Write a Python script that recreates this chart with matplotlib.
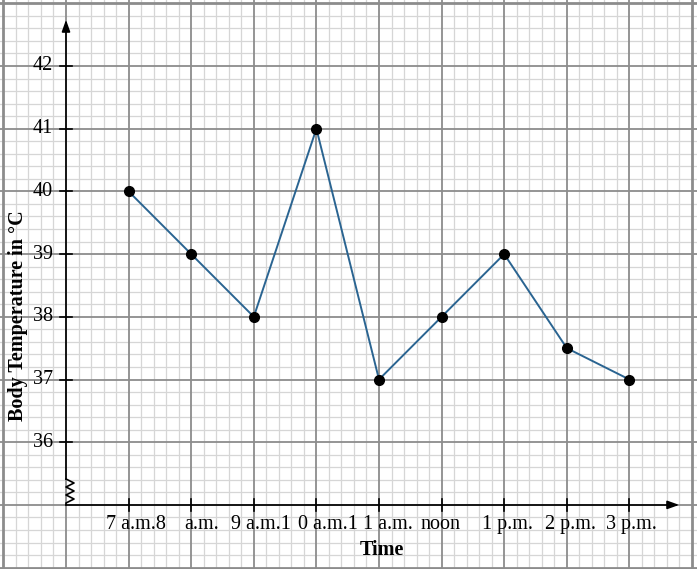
import numpy as np
import matplotlib
matplotlib.use("Agg")
import matplotlib.pyplot as plt

# ---- data ----
times = [1, 2, 3, 4, 5, 6, 7, 8, 9]
temps = [40, 39, 38, 41, 37, 38, 39, 37.5, 37]
tick_labels = ["7 a.m.8", "a.m.", "9 a.m.1", "0 a.m.1", "1 a.m.", "noon", "1 p.m.", "2 p.m.", "3 p.m."]
label_centers = [1.11, 2.165, 3.12, 4.18, 5.15, 5.99, 7.045, 8.067, 9.04]
y_ticks = [36, 37, 38, 39, 40, 41, 42]

plt.rcParams['font.family'] = ['Liberation Serif', 'DejaVu Serif']

W, H = 697, 569
fig = plt.figure(figsize=(W / 100, H / 100), dpi=100)
ax = fig.add_axes([0, 0, 1, 1])

sx = 62.6   # px per x unit
sy = 62.7   # px per y unit
x0px = 66
y42px = 66
xmin = -x0px / sx
xmax = (W - x0px) / sx
ymax = 42 + y42px / sy
ymin = 42 - (H - y42px) / sy
ax.set_xlim(xmin, xmax)
ax.set_ylim(ymin, ymax)

FS = 14.5

# graph paper
for v in np.arange(-1, 10.01, 0.2):
    if abs(v - round(v)) > 1e-6:
        ax.axvline(v, color='#d6d6d6', lw=0.9, zorder=0)
for v in np.arange(34, 43.01, 0.2):
    if abs(v - round(v)) > 1e-6:
        ax.axhline(v, color='#d6d6d6', lw=0.9, zorder=0)
for v in range(-1, 11):
    ax.axvline(v, color='#8c8c8c', lw=1.3 if v not in (-1, 10) else 2.0, zorder=0.5)
for v in range(34, 44):
    ax.axhline(v, color='#8c8c8c', lw=1.3 if v not in (34, 43) else 2.0, zorder=0.5)

for s in ax.spines.values():
    s.set_visible(False)

# axes lines
ytop = 42 + (66 - 17) / sy
xright = (682 - x0px) / sx
zig_top = 42 - (479 - 66) / sy
ax.plot([0, 0], [zig_top, ytop - 0.1], color='black', lw=1.2, zorder=3)
ax.plot([0, xright - 0.1], [35, 35], color='black', lw=1.2, zorder=3)
# arrowheads
ax.annotate('', xy=(0, ytop), xytext=(0, ytop - 0.2),
            arrowprops=dict(arrowstyle='-|>,head_length=0.7,head_width=0.25', color='black', lw=1.2),
            zorder=4)
ax.annotate('', xy=(xright, 35), xytext=(xright - 0.2, 35),
            arrowprops=dict(arrowstyle='-|>,head_length=0.7,head_width=0.25', color='black', lw=1.2),
            zorder=4)
# zigzag break
dx = 8 / sx
step = 4 / sy
zx = [0]
zy = [zig_top]
yy = zig_top
for i in range(6):
    yy -= step
    zx.append(dx if i % 2 == 0 else 0)
    zy.append(yy)
zx.append(0)
zy.append(35)
ax.plot(zx, zy, color='black', lw=1.2, zorder=3)

# ticks
tl = 6 / sx
for t in y_ticks:
    ax.plot([-tl, tl], [t, t], color='black', lw=1.2, zorder=3)
    ax.text(-13 / sx, t, str(t), ha='right', va='center', fontsize=FS, zorder=5)
tly = 6 / sy
for t in times:
    ax.plot([t, t], [35 - tly, 35 + tly], color='black', lw=1.2, zorder=3)
for c, lab in zip(label_centers, tick_labels):
    ax.text(c, 35 - 20 / sy, lab, ha='center', va='center', fontsize=FS, zorder=5)

# data line
ax.plot(times, temps, color='#2a6491', lw=1.4, marker='o', ms=7,
        mfc='black', mec='black', zorder=6)

# axis titles
ax.text((382 - x0px) / sx, 42 - (550 - 66) / sy, 'Time', ha='center', va='center',
        fontsize=FS, fontweight='bold', zorder=5)
ax.text((18 - x0px) / sx, 42 - (316 - 66) / sy, 'Body Temperature in °C', ha='center',
        va='center', rotation=90, fontsize=FS, fontweight='bold', zorder=5)

ax.set_xticks([])
ax.set_yticks([])
fig.savefig('out.png', dpi=100)
